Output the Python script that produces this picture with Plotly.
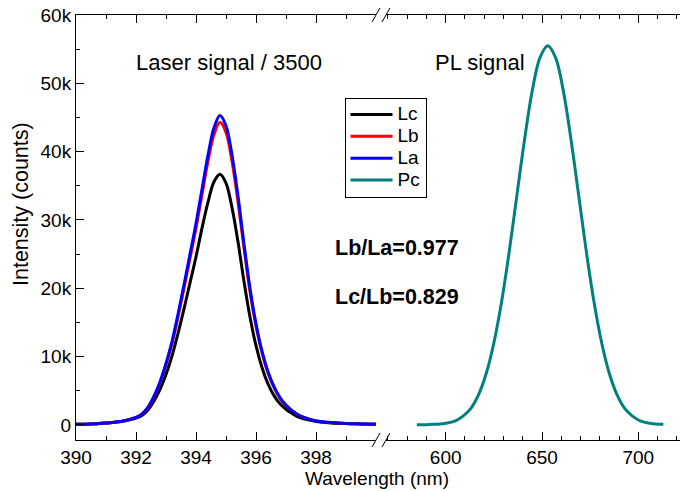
import plotly.graph_objects as go

# ---- data ----
laser_wl = [390.0, 390.5, 391.0, 391.5,
            392.0, 392.2, 392.4, 392.6, 392.8, 393.0, 393.2, 393.4, 393.6, 393.8,
            394.0, 394.2, 394.4, 394.6, 394.8, 395.0, 395.2, 395.4, 395.6, 395.8,
            396.0, 396.2, 396.4, 396.6, 396.8, 397.0, 397.2, 397.4, 397.6, 397.8,
            398.0, 398.5, 399.0, 399.5, 400.0]
Lc = [100, 150, 300, 500,
      1000, 1400, 2200, 3500, 5200, 7400, 10100, 13400, 17000, 20800,
      24600, 28800, 32600, 35600, 36700, 35400, 31800, 26800, 21000, 15800,
      11600, 8400, 6000, 4300, 3100, 2300, 1700, 1200, 900, 700,
      500, 300, 200, 150, 100]
Lb = [100, 150, 300, 500,
      1100, 1600, 2500, 4100, 6200, 8800, 11900, 15800, 20000, 24400,
      28800, 33700, 38600, 42500, 44300, 42800, 38600, 32700, 25900, 19500,
      14500, 10600, 7600, 5500, 3900, 2800, 2100, 1500, 1100, 800,
      600, 350, 200, 150, 100]
La = [100, 150, 300, 500,
      1100, 1600, 2600, 4200, 6300, 9000, 12200, 16200, 20500, 25000,
      29500, 34500, 39500, 43500, 45300, 43800, 39500, 33500, 26500, 20000,
      14800, 10800, 7800, 5600, 4000, 2900, 2100, 1500, 1100, 800,
      600, 350, 200, 150, 100]
pl_wl = [585, 589, 593, 597, 601, 605, 609, 613, 617, 621, 625, 629, 633, 637,
         641, 645, 649, 653, 657, 661, 665, 669, 673, 677, 681, 685, 689, 693,
         697, 701, 705, 709, 713]
Pc = [30, 50, 100, 150, 300, 600, 1300, 2400, 4400, 7500, 12000, 18000, 25400, 33700,
      41900, 49000, 53800, 55500, 53800, 49000, 41900, 33700, 25400, 18000, 12000, 7500, 4400, 2400,
      1300, 600, 300, 150, 100]

series_names = ["Lc", "Lb", "La", "Pc"]
y_tickvals = [0, 10000, 20000, 30000, 40000, 50000, 60000]
y_ticktext = ["0", "10k", "20k", "30k", "40k", "50k", "60k"]
x1_tickvals = [390, 392, 394, 396, 398]
x2_tickvals = [600, 650, 700]

FONT = "Liberation Sans, Arial, sans-serif"
W, H = 680, 491
ML, MR, MT, MB = 76, 0, 15, 51
PW, PH = W - ML - MR, H - MT - MB


def px(xp):
    return (xp - ML) / PW


def py(yp):
    return (H - MB - yp) / PH


def leg(name):
    return '<span style="font-size:19px">%s</span>' % name


fig = go.Figure()
lw = 3
fig.add_trace(go.Scatter(x=laser_wl, y=Lc, name=leg(series_names[0]), mode="lines",
                         line=dict(color="black", width=lw, shape="spline"), xaxis="x", yaxis="y"))
fig.add_trace(go.Scatter(x=laser_wl, y=Lb, name=leg(series_names[1]), mode="lines",
                         line=dict(color="#FF0000", width=lw, shape="spline"), xaxis="x", yaxis="y"))
fig.add_trace(go.Scatter(x=laser_wl, y=La, name=leg(series_names[2]), mode="lines",
                         line=dict(color="#0000FF", width=lw, shape="spline"), xaxis="x", yaxis="y"))
fig.add_trace(go.Scatter(x=pl_wl, y=Pc, name=leg(series_names[3]), mode="lines",
                         line=dict(color="#008080", width=lw, shape="spline"), xaxis="x2", yaxis="y2"))

axis_common = dict(showgrid=False, zeroline=False, showline=True, linecolor="black", linewidth=1,
                   ticks="inside", ticklen=8, tickcolor="black", tickwidth=1,
                   tickfont=dict(family=FONT, size=19, color="black"))

d1_end = px(376)
d2_start = px(386)

fig.update_layout(
    width=W, height=H,
    margin=dict(l=ML, r=MR, t=MT, b=MB, pad=0),
    paper_bgcolor="white", plot_bgcolor="white",
    font=dict(family=FONT, color="black"),
    xaxis=dict(axis_common, domain=[0, d1_end], range=[390, 400], tickvals=x1_tickvals,
               mirror="ticks", anchor="y",
               minor=dict(dtick=1, tick0=390, ticklen=4, ticks="inside", tickcolor="black")),
    xaxis2=dict(axis_common, domain=[d2_start, 1], range=[569, 721.65], tickvals=x2_tickvals,
                mirror="ticks", anchor="y2",
                minor=dict(dtick=10, tick0=570, ticklen=4, ticks="inside", tickcolor="black")),
    yaxis=dict(axis_common, range=[-2200, 60000], tickvals=y_tickvals, ticktext=y_ticktext,
               anchor="x", mirror=False,
               minor=dict(dtick=5000, tick0=0, ticklen=4, ticks="inside", tickcolor="black")),
    yaxis2=dict(matches="y", anchor="x2", showticklabels=False, showgrid=False, zeroline=False,
                showline=False, ticks=""),
    legend=dict(x=px(344.5), y=py(97.5), xanchor="left", yanchor="top",
                bordercolor="black", borderwidth=1, bgcolor="white",
                font=dict(family=FONT, size=14.5, color="black"),
                tracegroupgap=0, itemwidth=42),
    showlegend=True,
)

# axis titles
fig.add_annotation(text="Wavelength (nm)", xref="paper", yref="paper", x=px(377), y=py(478),
                   showarrow=False, font=dict(family=FONT, size=19), xanchor="center", yanchor="middle")
fig.add_annotation(text="Intensity (counts)", xref="paper", yref="paper", x=px(21), y=py(204),
                   showarrow=False, font=dict(family=FONT, size=21.5), textangle=-90,
                   xanchor="center", yanchor="middle")

# text labels
fig.add_annotation(text="Laser signal / 3500", xref="paper", yref="paper", x=px(229), y=py(62),
                   showarrow=False, font=dict(family=FONT, size=22), xanchor="center", yanchor="middle")
fig.add_annotation(text="PL signal", xref="paper", yref="paper", x=px(480), y=py(62),
                   showarrow=False, font=dict(family=FONT, size=22), xanchor="center", yanchor="middle")
fig.add_annotation(text="<b>Lb/La=0.977</b>", xref="paper", yref="paper", x=px(333), y=py(248),
                   showarrow=False, font=dict(family=FONT, size=21.5), xanchor="left", yanchor="middle")
fig.add_annotation(text="<b>Lc/Lb=0.829</b>", xref="paper", yref="paper", x=px(333), y=py(297),
                   showarrow=False, font=dict(family=FONT, size=21.5), xanchor="left", yanchor="middle")

# axis-break marks
for yc in (440, 15):
    for x0 in (372, 382):
        fig.add_shape(type="line", xref="paper", yref="paper",
                      x0=px(x0), y0=py(yc + 7), x1=px(x0 + 8), y1=py(yc - 7),
                      line=dict(color="black", width=1))

fig.write_html("out.html", config={"displayModeBar": False},
               post_script="document.body.style.margin='0';document.body.style.overflow='hidden';")
